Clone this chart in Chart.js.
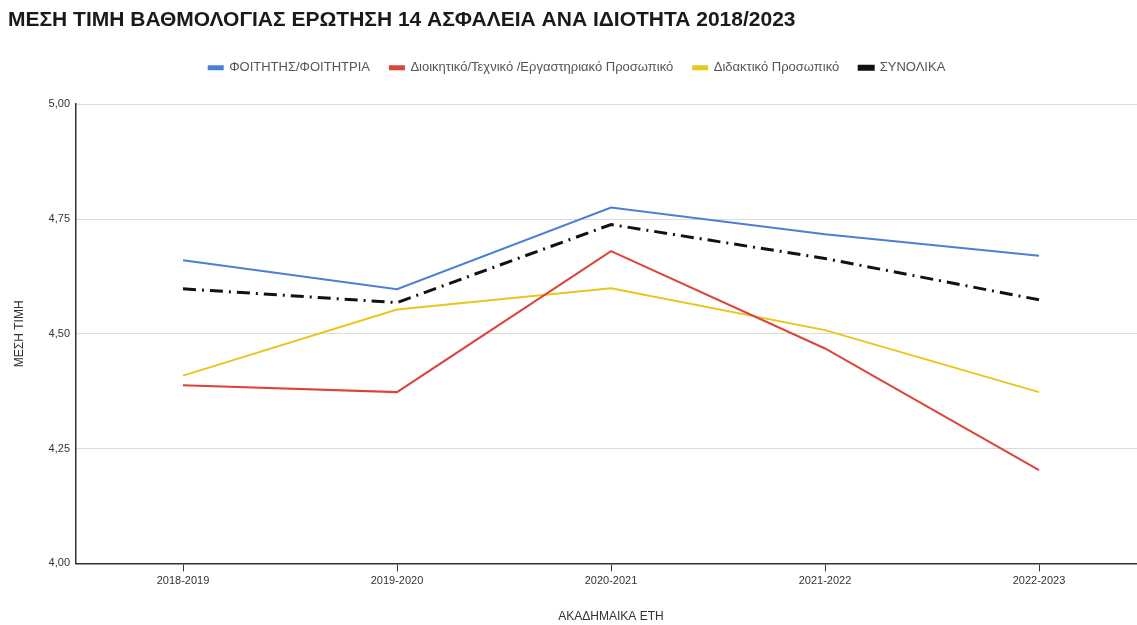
<!DOCTYPE html>
<html>
<head>
<meta charset="utf-8">
<script src="https://cdn.jsdelivr.net/npm/chart.js@4.4.1/dist/chart.umd.min.js"></script>
<style>
  html, body { margin: 0; padding: 0; background: #fff; overflow: hidden; }
  #wrap { width: 1146px; height: 625px; position: relative; }
</style>
</head>
<body>
<div id="wrap"><canvas id="lineChart"></canvas></div>
<script>
var years = ['2018-2019', '2019-2020', '2020-2021', '2021-2022', '2022-2023'];

var studentData = [4.66, 4.597, 4.775, 4.717, 4.67];
var adminData = [4.388, 4.373, 4.68, 4.468, 4.203];
var teachingData = [4.409, 4.553, 4.599, 4.508, 4.373];
var totalData = [4.598, 4.568, 4.738, 4.664, 4.574];

var yTicks = [4.00, 4.25, 4.50, 4.75, 5.00];

const ctx = document.getElementById('lineChart').getContext('2d');

// extra room under the legend
const legendMargin = {
    id: 'legendMargin',
    beforeInit: function (chart) {
        const fit = chart.legend.fit;
        chart.legend.fit = function () {
            fit.bind(chart.legend)();
            this.height += 20;
        };
    }
};

new Chart(ctx, {
    type: 'line',
    data: {
        labels: years,
        datasets: [
            {
                label: 'ΦΟΙΤΗΤΗΣ/ΦΟΙΤΗΤΡΙΑ',
                data: studentData,
                borderColor: '#4a7fd8',
                backgroundColor: '#4a7fd8',
                borderWidth: 2
            },
            {
                label: 'Διοικητικό/Τεχνικό /Εργαστηριακό Προσωπικό',
                data: adminData,
                borderColor: '#dc4438',
                backgroundColor: '#dc4438',
                borderWidth: 2
            },
            {
                label: 'Διδακτικό Προσωπικό',
                data: teachingData,
                borderColor: '#e8c61c',
                backgroundColor: '#e8c61c',
                borderWidth: 2
            },
            {
                label: 'ΣΥΝΟΛΙΚΑ',
                data: totalData,
                borderColor: '#111111',
                backgroundColor: '#111111',
                borderWidth: 3,
                borderDash: [13, 6, 2, 6]
            }
        ]
    },
    plugins: [legendMargin],
    options: {
        responsive: true,
        maintainAspectRatio: false,
        animation: false,
        layout: { padding: { left: 8, right: 0, top: 0, bottom: 0 } },
        elements: {
            point: { radius: 0, hoverRadius: 0 },
            line: { tension: 0 }
        },
        plugins: {
            title: {
                display: true,
                text: 'ΜΕΣΗ ΤΙΜΗ ΒΑΘΜΟΛΟΓΙΑΣ ΕΡΩΤΗΣΗ 14 ΑΣΦΑΛΕΙΑ ΑΝΑ ΙΔΙΟΤΗΤΑ 2018/2023',
                align: 'start',
                color: '#1a1a1a',
                font: { family: 'Liberation Sans, Arial, sans-serif', size: 21, weight: 'bold' },
                padding: { top: 8, bottom: 8 }
            },
            legend: {
                display: true,
                position: 'top',
                labels: {
                    color: '#555',
                    boxWidth: 14,
                    boxHeight: 3,
                    padding: 20,
                    font: { family: 'Liberation Sans, Arial, sans-serif', size: 13 },
                    generateLabels: function (chart) {
                        var items = Chart.defaults.plugins.legend.labels.generateLabels(chart);
                        items.forEach(function (item) { item.lineDash = []; });
                        return items;
                    }
                }
            },
            tooltip: { enabled: false }
        },
        scales: {
            x: {
                offset: true,
                title: {
                    display: true,
                    text: 'ΑΚΑΔΗΜΑΙΚΑ ΕΤΗ',
                    color: '#333',
                    font: { family: 'Liberation Sans, Arial, sans-serif', size: 12 },
                    padding: { top: 19, bottom: 1 }
                },
                grid: {
                    display: true,
                    drawOnChartArea: false,
                    drawTicks: true,
                    tickLength: 8,
                    color: '#333'
                },
                border: { color: '#333', width: 1.5 },
                ticks: {
                    color: '#333',
                    padding: 3,
                    font: { family: 'Liberation Sans, Arial, sans-serif', size: 11 }
                }
            },
            y: {
                min: 4,
                max: 5,
                afterBuildTicks: function (scale) {
                    scale.ticks = yTicks.map(function (v) { return { value: v }; });
                },
                afterFit: function (scale) {
                    scale.width = 68;
                },
                title: {
                    display: true,
                    text: 'ΜΕΣΗ ΤΙΜΗ',
                    color: '#333',
                    font: { family: 'Liberation Sans, Arial, sans-serif', size: 12 },
                    padding: { bottom: 0 }
                },
                grid: {
                    color: '#dcdcdc',
                    drawTicks: false
                },
                border: { color: '#333', width: 1.5 },
                ticks: {
                    color: '#333',
                    padding: 6,
                    font: { family: 'Liberation Sans, Arial, sans-serif', size: 11 },
                    callback: function (value) {
                        return value.toFixed(2).replace('.', ',');
                    }
                }
            }
        }
    }
});
</script>
</body>
</html>
